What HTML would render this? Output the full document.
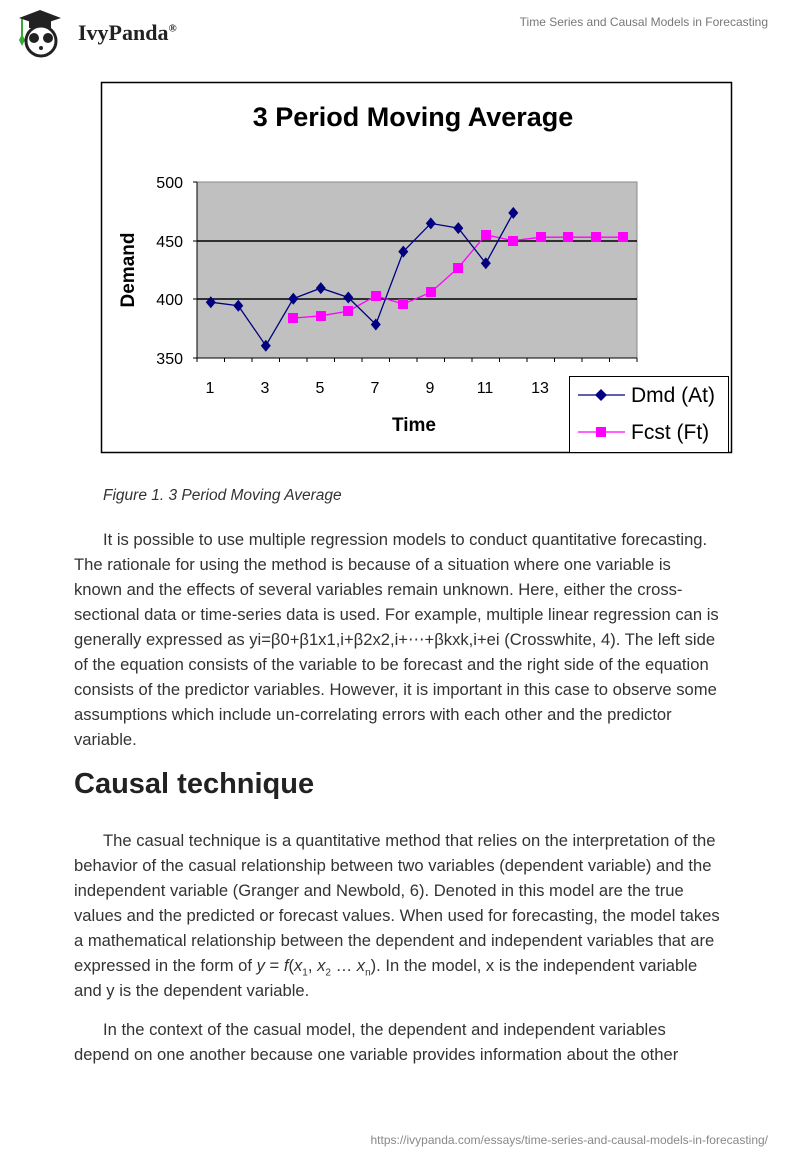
<!DOCTYPE html>
<html><head><meta charset="utf-8"><style>
body{margin:0;width:800px;height:1160px;background:#fff;position:relative;font-family:"Liberation Sans",sans-serif;color:#333;overflow:hidden}
.l{position:absolute;left:74px;font-size:16.6px;white-space:nowrap;line-height:20px}
</style></head><body>
<svg style="position:absolute;left:14px;top:8px" width="60" height="50" viewBox="0 0 60 50">
<polygon points="5,10 26,2 47,10 26,17" fill="#222"/>
<rect x="15" y="12" width="22" height="8" fill="#222"/>
<line x1="8" y1="11" x2="8" y2="30" stroke="#3a3" stroke-width="2"/>
<path d="M5 32 L8 26 L11 32 L8 38Z" fill="#3a3"/>
<circle cx="27" cy="33" r="15" fill="#fff" stroke="#222" stroke-width="3"/>
<circle cx="20" cy="30" r="5" fill="#222"/><circle cx="34" cy="30" r="5" fill="#222"/>
<circle cx="27" cy="40" r="2" fill="#222"/>
</svg>
<div style="position:absolute;left:78px;top:20px;font-family:'Liberation Serif',serif;font-weight:bold;font-size:22px;color:#222">IvyPanda<sup style="font-size:11px">®</sup></div>
<div style="position:absolute;right:32px;top:15px;font-size:12px;color:#777">Time Series and Causal Models in Forecasting</div>

<svg style="position:absolute;left:0;top:0" width="800" height="470" font-family="Liberation Sans,sans-serif">
<rect x="101.5" y="82.5" width="630" height="370" fill="#fff" stroke="#000" stroke-width="1.5"/>
<text x="413" y="126" font-size="27" font-weight="bold" text-anchor="middle" fill="#000">3 Period Moving Average</text>
<rect x="197" y="182" width="440" height="176" fill="#c0c0c0" stroke="#888"/>
<line x1="197" y1="241" x2="637" y2="241" stroke="#000" stroke-width="1.5"/>
<line x1="197" y1="299" x2="637" y2="299" stroke="#000" stroke-width="1.5"/>
<line x1="197" y1="182" x2="197" y2="362" stroke="#000"/>
<line x1="193" y1="358" x2="637" y2="358" stroke="#000"/>
<g stroke="#000"><line x1="193" y1="182" x2="197" y2="182"/><line x1="193" y1="241" x2="197" y2="241"/><line x1="193" y1="299" x2="197" y2="299"/></g>
<g stroke="#000" id="tk"></g>
<g font-size="16" fill="#000" text-anchor="end"><text x="183" y="188">500</text><text x="183" y="247">450</text><text x="183" y="305">400</text><text x="183" y="364">350</text></g>
<g font-size="16" fill="#000" text-anchor="middle"><text x="210" y="393">1</text><text x="265" y="393">3</text><text x="320" y="393">5</text><text x="375" y="393">7</text><text x="430" y="393">9</text><text x="485" y="393">11</text><text x="540" y="393">13</text></g>
<text x="414" y="431" font-size="19" font-weight="bold" text-anchor="middle" fill="#000">Time</text>
<text transform="translate(134,270) rotate(-90)" font-size="19" font-weight="bold" text-anchor="middle" fill="#000">Demand</text>
<polyline fill="none" stroke="#f0f" stroke-width="1.3" points="293.3,318.1 320.8,315.8 348.3,311.1 375.8,295.8 403.3,304.1 430.8,292.3 458.3,267.7 485.8,234.8 513.3,240.7 540.8,237.2 568.3,237.2 595.8,237.2 623.3,237.2"/>
<g fill="#f0f"><rect x="288" y="313" width="10" height="10"/><rect x="316" y="311" width="10" height="10"/><rect x="343" y="306" width="10" height="10"/><rect x="371" y="291" width="10" height="10"/><rect x="398" y="299" width="10" height="10"/><rect x="426" y="287" width="10" height="10"/><rect x="453" y="263" width="10" height="10"/><rect x="481" y="230" width="10" height="10"/><rect x="508" y="236" width="10" height="10"/><rect x="536" y="232" width="10" height="10"/><rect x="563" y="232" width="10" height="10"/><rect x="591" y="232" width="10" height="10"/><rect x="618" y="232" width="10" height="10"/></g>
<polyline fill="none" stroke="#000080" stroke-width="1.3" points="210.8,302.2 238.3,305.7 265.8,345.7 293.3,298.7 320.8,288.1 348.3,297.5 375.8,324.5 403.3,251.6 430.8,223.4 458.3,228.1 485.8,263.3 513.3,212.9"/>
<g fill="#000080" id="dm"></g>
<rect x="569.5" y="376.5" width="159" height="76" fill="#fff" stroke="#000"/>
<line x1="578" y1="395" x2="625" y2="395" stroke="#000080" stroke-width="1.3"/>
<path d="M601 389 L607 395 L601 401 L595 395Z" fill="#000080"/>
<text x="631" y="402" font-size="21" fill="#000">Dmd (At)</text>
<line x1="578" y1="432" x2="625" y2="432" stroke="#f0f" stroke-width="1.3"/>
<rect x="596" y="427" width="10" height="10" fill="#f0f"/>
<text x="631" y="439" font-size="21" fill="#000">Fcst (Ft)</text>
</svg>
<script>
var tk=document.getElementById('tk'),s='';for(var i=0;i<=16;i++){var x=197+i*27.5;s+='<line x1="'+x+'" y1="358" x2="'+x+'" y2="362"/>';}tk.innerHTML=s;
var p=[[210.8,302.2],[238.3,305.7],[265.8,345.7],[293.3,298.7],[320.8,288.1],[348.3,297.5],[375.8,324.5],[403.3,251.6],[430.8,223.4],[458.3,228.1],[485.8,263.3],[513.3,212.9]],d='';
p.forEach(function(q){d+='<path d="M'+q[0]+' '+(q[1]-6)+' L'+(q[0]+5)+' '+q[1]+' L'+q[0]+' '+(q[1]+6)+' L'+(q[0]-5)+' '+q[1]+'Z"/>';});document.getElementById('dm').innerHTML=d;
</script>

<div style="position:absolute;left:103px;top:487px;font-size:15.5px;font-style:italic;color:#333">Figure 1. 3 Period Moving Average</div>
<div class="l" style="top:530px;left:103px">It is possible to use multiple regression models to conduct quantitative forecasting.</div>
<div class="l" style="top:555px">The rationale for using the method is because of a situation where one variable is</div>
<div class="l" style="top:580px">known and the effects of several variables remain unknown. Here, either the cross-</div>
<div class="l" style="top:605px">sectional data or time-series data is used. For example, multiple linear regression can is</div>
<div class="l" style="top:630px">generally expressed as yi=β0+β1x1,i+β2x2,i+⋯+βkxk,i+ei (Crosswhite, 4). The left side</div>
<div class="l" style="top:655px">of the equation consists of the variable to be forecast and the right side of the equation</div>
<div class="l" style="top:680px">consists of the predictor variables. However, it is important in this case to observe some</div>
<div class="l" style="top:705px">assumptions which include un-correlating errors with each other and the predictor</div>
<div class="l" style="top:730px">variable.</div>
<div style="position:absolute;left:74px;top:768px;font-size:29px;font-weight:bold;color:#222">Causal technique</div>
<div class="l" style="top:831px;left:103px">The casual technique is a quantitative method that relies on the interpretation of the</div>
<div class="l" style="top:856px">behavior of the casual relationship between two variables (dependent variable) and the</div>
<div class="l" style="top:881px">independent variable (Granger and Newbold, 6). Denoted in this model are the true</div>
<div class="l" style="top:906px">values and the predicted or forecast values. When used for forecasting, the model takes</div>
<div class="l" style="top:931px">a mathematical relationship between the dependent and independent variables that are</div>
<div class="l" style="top:956px">expressed in the form of <i>y</i> = <i>f</i>(<i>x</i><sub style="font-size:10px">1</sub>, <i>x</i><sub style="font-size:10px">2</sub> … <i>x</i><sub style="font-size:10px">n</sub>). In the model, x is the independent variable</div>
<div class="l" style="top:981px">and y is the dependent variable.</div>
<div class="l" style="top:1020px;left:103px">In the context of the casual model, the dependent and independent variables</div>
<div class="l" style="top:1045px">depend on one another because one variable provides information about the other</div>
<div style="position:absolute;right:32px;top:1133px;font-size:12px;color:#888">https://ivypanda.com/essays/time-series-and-causal-models-in-forecasting/</div>
</body></html>
